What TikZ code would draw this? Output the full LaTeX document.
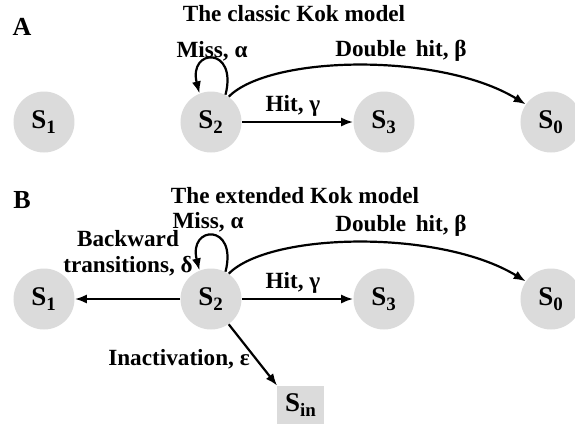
\documentclass[tikz,border=0pt]{standalone}
\usepackage{fontspec}
\setmainfont{Liberation Serif}
\usetikzlibrary{shapes,arrows.meta}

\begin{document}
\begin{tikzpicture}[x=0.5pt,y=-0.5pt,font=\bfseries\fontsize{11.6}{13}\selectfont,
  state/.style={circle,fill=black!14,minimum size=30.5pt,inner sep=0pt,font=\bfseries\fontsize{13.5}{14}\selectfont},
  trans/.style={-{Latex[length=6pt,width=4.6pt]},line width=1.1pt}]
\useasboundingbox (0,0) rectangle (575,425);
% panel A
\node[font=\bfseries\fontsize{13}{14}\selectfont] (A) at (22,27) {A};
\node (titleA) at (294,14) {The classic Kok model};
\node[state] (a1) at (44,122) {S\textsubscript{1}};
\node[state] (a2) at (211,122) {S\textsubscript{2}};
\node[state] (a3) at (384,122) {S\textsubscript{3}};
\node[state] (a0) at (551,122) {S\textsubscript{0}};
\draw[trans] (a2.62) .. controls (238,46) and (188,48) .. (a2.112);
\draw[trans] (a2) -- (a3);
\draw[trans] (a2.55) .. controls (270,55) and (440,52) .. (a0.145);
\path (212,51) node (missA) {Miss, α}
      (293,106) node (hitA) {Hit, γ}
      (401,51) node (dblA) {Double\, hit, β}
      ;
% panel B
\node[font=\bfseries\fontsize{13}{14}\selectfont] (B) at (22,200) {B};
\node (titleB) at (295,196) {The extended Kok model};
\node[state] (b1) at (44,299) {S\textsubscript{1}};
\node[state] (b2) at (211,299) {S\textsubscript{2}};
\node[state] (b3) at (384,299) {S\textsubscript{3}};
\node[state] (b0) at (551,299) {S\textsubscript{0}};
\node[rectangle,fill=black!14,minimum width=23.5pt,minimum height=19pt,font=\bfseries\fontsize{13.5}{14}\selectfont] (bin) at (301,405) {S\textsubscript{in}};
\draw[trans] (b2.62) .. controls (238,223) and (188,225) .. (b2.112);
\draw[trans] (b2) -- (b3);
\draw[trans] (b2) -- (b1);
\draw[trans] (b2.-55) -- (bin.north west);
\draw[trans] (b2.55) .. controls (270,232) and (440,229) .. (b0.145);
\path (208,222) node (missB) {Miss, α}
      (128,253) node[align=center] (backB) {Backward\\transitions, δ}
      (293,283) node (hitB) {Hit, γ}
      (401,226) node (dblB) {Double\, hit, β}
      (179,359) node (inaB) {Inactivation, ε}
      ;
\end{tikzpicture}
\end{document}
